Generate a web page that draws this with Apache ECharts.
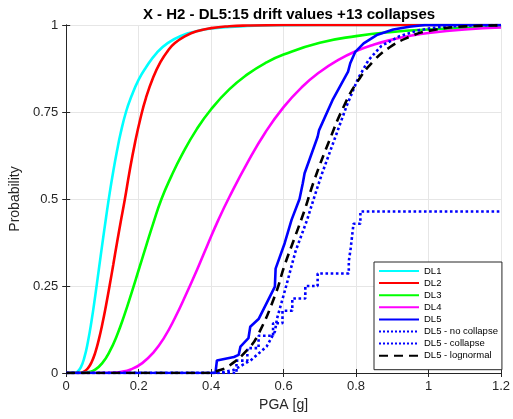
<!DOCTYPE html>
<html>
<head>
<meta charset="utf-8">
<script src="https://cdn.jsdelivr.net/npm/echarts@6/dist/echarts.min.js"></script>
<style>html,body{margin:0;padding:0;background:#fff;}#c{width:513px;height:419px;}</style>
</head>
<body>
<div id="c"></div>
<script>
var titleText = 'X - H2 - DL5:15 drift values +13 collapses';
var xTicks = [0, 0.2, 0.4, 0.6, 0.8, 1, 1.2];
var yTicks = [0, 0.25, 0.5, 0.75, 1];
var seriesNames = ['DL1', 'DL2', 'DL3', 'DL4', 'DL5', 'DL5 - no collapse', 'DL5 - collapse', 'DL5 - lognormal'];

var dl1 = [[0,0],[0.02,0.0002],[0.03,0.003],[0.04,0.0155],[0.05,0.044],[0.06,0.09],[0.07,0.15],[0.08,0.221],[0.09,0.297],[0.1,0.373],[0.11,0.447],[0.12,0.517],[0.13,0.58],[0.14,0.637],[0.15,0.688],[0.165,0.75],[0.18,0.795],[0.2,0.843],[0.22,0.878],[0.25,0.92],[0.28,0.948],[0.32,0.97],[0.36,0.982],[0.4,0.99],[0.5,0.997],[0.6,0.9993],[0.8,1],[1.2,1]];
var dl2 = [[0,0],[0.04,0.0005],[0.05,0.0045],[0.06,0.0137],[0.07,0.031],[0.08,0.058],[0.09,0.096],[0.1,0.142],[0.11,0.195],[0.12,0.252],[0.13,0.312],[0.14,0.373],[0.15,0.432],[0.162,0.5],[0.175,0.58],[0.19,0.662],[0.205,0.732],[0.22,0.79],[0.24,0.849],[0.26,0.893],[0.28,0.925],[0.3,0.948],[0.33,0.969],[0.36,0.982],[0.4,0.991],[0.45,0.9964],[0.5,0.9985],[0.6,0.9998],[0.8,1],[1.2,1]];
var dl3 = [[0,0],[0.05,0.0004],[0.06,0.0019],[0.08,0.0098],[0.1,0.029],[0.12,0.062],[0.14,0.108],[0.16,0.165],[0.18,0.229],[0.2,0.296],[0.22,0.363],[0.24,0.429],[0.263,0.5],[0.29,0.565],[0.32,0.628],[0.36,0.7],[0.4,0.758],[0.45,0.815],[0.5,0.858],[0.55,0.891],[0.6,0.915],[0.7,0.949],[0.8,0.968],[0.9,0.98],[1,0.987],[1.1,0.9915],[1.2,0.9943]];
var dl4 = [[0,0],[0.1,0.0001],[0.12,0.0005],[0.15,0.003],[0.18,0.011],[0.21,0.0284],[0.24,0.058],[0.27,0.101],[0.3,0.158],[0.33,0.224],[0.36,0.294],[0.39,0.368],[0.42,0.44],[0.45,0.505],[0.5,0.604],[0.55,0.692],[0.6,0.764],[0.65,0.821],[0.7,0.865],[0.75,0.899],[0.8,0.925],[0.85,0.944],[0.9,0.958],[0.95,0.969],[1,0.977],[1.1,0.987],[1.2,0.993]];
var dl5 = [[0,0],[0.412,0],[0.416,0.036],[0.463,0.046],[0.476,0.052],[0.481,0.076],[0.503,0.1],[0.508,0.133],[0.531,0.155],[0.576,0.248],[0.578,0.3],[0.603,0.373],[0.622,0.44],[0.644,0.5],[0.653,0.545],[0.658,0.574],[0.694,0.679],[0.698,0.698],[0.735,0.784],[0.778,0.866],[0.784,0.89],[0.798,0.923],[0.821,0.947],[0.857,0.971],[0.903,0.987],[0.947,0.995],[0.99,1],[1.2,1]];
var dl5NoCollapse = [[0,0],[0.42,0],[0.463,0.009],[0.51,0.037],[0.553,0.076],[0.576,0.119],[0.582,0.157],[0.608,0.253],[0.633,0.35],[0.665,0.44],[0.683,0.5],[0.705,0.57],[0.74,0.67],[0.775,0.77],[0.805,0.845],[0.835,0.9],[0.87,0.94],[0.92,0.968],[0.97,0.984],[1.02,0.993],[1.1,0.998],[1.2,1]];
var dl5Collapse = [[0,0],[0.47,0.0357],[0.5,0.0714],[0.531,0.107],[0.571,0.143],[0.597,0.179],[0.624,0.214],[0.66,0.25],[0.694,0.286],[0.78,0.321],[0.785,0.357],[0.789,0.393],[0.793,0.429],[0.812,0.464],[1.2,0.464]];
var dl5Lognormal = [[0,0],[0.4,0],[0.42,0.007],[0.449,0.02],[0.503,0.07],[0.531,0.113],[0.576,0.222],[0.603,0.31],[0.631,0.39],[0.658,0.468],[0.685,0.555],[0.726,0.667],[0.767,0.768],[0.803,0.836],[0.848,0.896],[0.893,0.936],[0.948,0.966],[1,0.983],[1.1,0.996],[1.2,0.999]];

var chart = echarts.init(document.getElementById('c'), null, {renderer: 'canvas'});
var axisColor = '#262626';
var gridColor = '#e6e6e6';
var fontFam = 'Liberation Sans, Arial, sans-serif';
function lineSeries(name, data, color, type, smooth, step) {
  var s = {
    name: name, type: 'line', data: data, symbol: 'none', showSymbol: false,
    smooth: smooth, animation: false,
    lineStyle: {color: color, width: 2.6, type: type},
    itemStyle: {color: color}
  };
  if (step) s.step = step;
  return s;
}
var option = {
  backgroundColor: '#fff',
  animation: false,
  title: {
    text: titleText, left: 284, top: 2, textAlign: 'center',
    textStyle: {fontFamily: fontFam, fontSize: 15, fontWeight: 'bold', color: '#000'}
  },
  grid: {left: 65, right: 7, top: 25, bottom: 46, containLabel: false},
  legend: {
    orient: 'vertical', left: 374, top: 262,
    padding: [4, 4, 9, 4], itemGap: 2.1, itemWidth: 40, itemHeight: 9,
    backgroundColor: '#fff', borderColor: axisColor, borderWidth: 1,
    itemStyle: {opacity: 0},
    textStyle: {fontFamily: fontFam, fontSize: 9.5, color: '#000', padding: [0,0,0,0]},
    data: seriesNames
  },
  xAxis: [{
    type: 'value', min: xTicks[0], max: xTicks[xTicks.length - 1], interval: 0.2,
    name: 'PGA [g]', nameLocation: 'middle', nameGap: 22,
    nameTextStyle: {fontFamily: fontFam, fontSize: 14, color: axisColor},
    axisLine: {show: true, onZero: false, lineStyle: {color: axisColor, width: 1}},
    axisTick: {show: true, inside: true, length: 4, lineStyle: {color: axisColor}},
    axisLabel: {fontFamily: fontFam, fontSize: 13, color: axisColor, margin: 7,
      formatter: function (v) { var i = xTicks.indexOf(Math.round(v * 10) / 10); return i >= 0 ? String(xTicks[i]) : ''; }},
    splitLine: {show: true, lineStyle: {color: gridColor, width: 1}}
  }, {
    type: 'value', position: 'top', min: xTicks[0], max: xTicks[xTicks.length - 1], interval: 0.2,
    axisLine: {show: true, lineStyle: {color: axisColor, width: 1}},
    axisTick: {show: true, inside: true, length: 4, lineStyle: {color: axisColor}},
    axisLabel: {show: false}, splitLine: {show: false}
  }],
  yAxis: [{
    type: 'value', min: yTicks[0], max: yTicks[yTicks.length - 1], interval: 0.25,
    name: 'Probability', nameLocation: 'middle', nameGap: 37,
    nameTextStyle: {fontFamily: fontFam, fontSize: 14, color: axisColor},
    axisLine: {show: true, onZero: false, lineStyle: {color: axisColor, width: 1}},
    axisTick: {show: true, inside: true, length: 4, lineStyle: {color: axisColor}},
    axisLabel: {fontFamily: fontFam, fontSize: 13, color: axisColor, margin: 8,
      formatter: function (v) { var i = yTicks.indexOf(v); return i >= 0 ? String(yTicks[i]) : ''; }},
    splitLine: {show: true, lineStyle: {color: gridColor, width: 1}}
  }, {
    type: 'value', position: 'right', min: yTicks[0], max: yTicks[yTicks.length - 1], interval: 0.25,
    axisLine: {show: true, lineStyle: {color: axisColor, width: 1}},
    axisTick: {show: true, inside: true, length: 4, lineStyle: {color: axisColor}},
    axisLabel: {show: false}, splitLine: {show: false}
  }],
  series: [
    lineSeries(seriesNames[0], dl1, '#00ffff', 'solid', true),
    lineSeries(seriesNames[1], dl2, '#ff0000', 'solid', true),
    lineSeries(seriesNames[2], dl3, '#00ff00', 'solid', true),
    lineSeries(seriesNames[3], dl4, '#ff00ff', 'solid', true),
    lineSeries(seriesNames[4], dl5, '#0000ff', 'solid', false),
    lineSeries(seriesNames[5], dl5NoCollapse, '#0000ff', 'dotted', false),
    lineSeries(seriesNames[6], dl5Collapse, '#0000ff', 'dotted', false, 'end'),
    lineSeries(seriesNames[7], dl5Lognormal, '#000000', [9, 6], true)
  ]
};
chart.setOption(option);
</script>
</body>
</html>
